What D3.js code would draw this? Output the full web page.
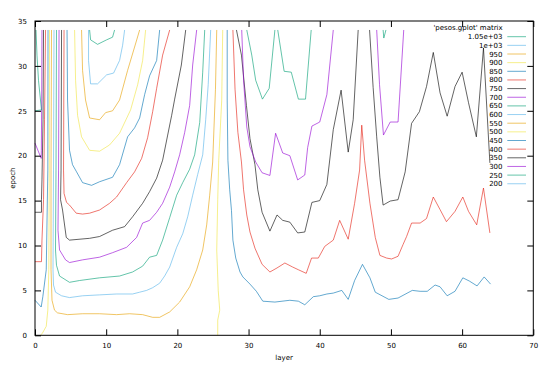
<!DOCTYPE html>
<html><head><meta charset="utf-8">
<script src="https://cdn.jsdelivr.net/npm/d3@7"></script>
<style>
body{margin:0;background:#fff}
svg{display:block}
text{font-family:'DejaVu Sans',sans-serif;font-size:7px;fill:#000}
</style>
</head><body>
<svg id="c" width="540" height="367"></svg>
<script>
// ---- axes ----
const xTicks=[0,10,20,30,40,50,60,70];
const yTicks=[0,5,10,15,20,25,30,35];
// ---- contour levels (legend order) ----
const levels=[1050,1000,950,900,850,800,750,700,650,600,550,500,450,400,350,300,250,200];
const levelLabels=["1.05e+03","1e+03","950","900","850","800","750","700","650","600","550","500","450","400","350","300","250","200"];
const palette=["#009E73","#56B4E9","#E69F00","#F0E442","#0072B2","#E51E10","#000000","#9400D3"];

// ---- contour polylines [layer, epoch] ----
const c1050=[[7.67,34],[7.81,32.9],[8.79,32.4],[10.06,32.9],[10.9,33.2],[11.18,34]];
const c1000=[[7.52,34],[7.52,30.6],[7.81,28.0],[8.79,28.0],[10.06,29.0],[11.04,29.2],[11.88,30.6],[12.31,32.3],[12.59,34]];
const c950=[[6.54,34],[6.68,29.5],[7.1,26.2],[7.67,24.2],[9.07,24.0],[9.92,24.8],[10.9,25.0],[11.88,26.2],[13.01,29.5],[13.99,32.1],[14.7,34]];
const c900=[[5.56,34],[5.7,28.4],[5.98,24.5],[6.54,22.1],[7.67,20.6],[9.07,20.5],[10.48,21.2],[11.88,22.5],[13.43,25.1],[14.42,27.9],[15.12,30.6],[15.54,34]];
const c850=[[4.5,34],[4.57,26.2],[4.85,20.6],[5.27,19.0],[5.84,18.2],[6.68,17.0],[7.95,16.7],[9.07,17.1],[10.9,17.6],[11.88,19.0],[13.01,22.1],[13.99,23.1],[14.7,24.2],[15.4,26.8],[16.1,28.9],[17.09,30.6],[17.51,34]];
const c800=[[4.08,34],[4.01,18.4],[4.08,15.8],[4.43,14.8],[4.85,14.5],[5.79,13.6],[6.68,13.5],[7.67,13.6],[9.07,13.95],[10.48,14.7],[11.46,15.4],[12.87,17.0],[13.99,18.2],[14.98,19.7],[15.82,22.0],[16.53,24.9],[17.09,27.5],[17.93,31.2],[18.92,34]];
const c750=[[3.73,34],[3.66,18.4],[3.59,15.1],[3.87,13.95],[4.39,10.9],[4.85,10.6],[7.67,10.8],[9.07,11.0],[10.9,11.7],[12.59,12.1],[13.71,13.2],[15.12,14.7],[16.1,16.0],[17.09,17.5],[17.93,19.5],[18.64,22.3],[19.2,24.5],[19.62,26.3],[20.56,30.1],[21.17,34]];
const c700=[[3.38,34],[3.31,18.4],[3.23,11.7],[3.45,9.5],[4.29,8.4],[4.85,8.1],[6.68,8.4],[9.07,8.7],[10.9,9.2],[12.87,9.8],[14.28,10.9],[15.12,12.5],[16.1,12.8],[17.09,13.7],[17.93,14.7],[18.92,16.5],[19.62,18.2],[20.32,20.1],[21.03,22.6],[21.73,25.6],[22.15,30.1],[22.71,34]];
const c650=[[3.02,34],[2.95,18.4],[2.88,9.5],[3.02,7.8],[3.45,6.6],[4.85,5.9],[6.26,6.1],[9.07,6.4],[11.88,6.6],[13.71,7.05],[15.12,7.7],[16.1,8.7],[17.09,8.9],[17.93,10.6],[18.92,13.1],[19.9,15.6],[20.75,17.0],[21.73,18.5],[22.43,20.1],[23.14,23.7],[23.56,29.3],[23.84,34]];
const c600=[[2.67,34],[2.6,18.4],[2.53,7.3],[2.6,5.6],[2.88,4.8],[3.73,4.4],[4.85,4.2],[6.68,4.4],[9.07,4.5],[11.46,4.6],[13.71,4.6],[14.7,4.8],[15.68,5.0],[16.53,5.3],[17.51,5.8],[18.21,6.6],[18.92,7.6],[19.9,9.8],[20.75,11.3],[21.45,13.2],[22.15,15.6],[22.85,17.9],[23.56,20.1],[23.98,24.0],[24.33,27.9],[24.68,34]];
const c550=[[2.32,34],[2.25,18.4],[2.25,7.3],[2.39,3.9],[2.74,2.8],[3.16,2.5],[4.57,2.3],[6.68,2.4],[9.07,2.4],[11.46,2.3],[13.29,2.4],[15.12,2.3],[16.53,2.0],[17.51,2.0],[18.92,2.6],[20.32,3.7],[21.73,5.4],[22.71,7.3],[23.56,9.5],[24.12,12.3],[24.54,15.6],[24.96,19.3],[25.35,27.4],[25.53,34]];
const c500a=[[2.04,34],[2.01,18.4],[1.94,7.3],[1.8,2.8],[1.58,1.0],[1.05,0.25],[0.77,0]];
const c500b=[[26.37,34],[26.23,26.2],[25.81,19.5],[25.67,15.1],[25.53,9.5],[25.74,5.0],[25.95,2.8],[25.67,1.7],[25.67,0]];
const c450a=[[1.83,34],[1.8,18.4],[1.58,7.3],[1.1,4.3],[0.87,3.15],[0,3.9]];
const c450b=[[27.0,34],[27.0,26.2],[27.1,19.5],[27.35,16.2],[27.6,13.9],[27.8,10.6],[28.2,8.6],[28.8,7.05],[29.2,6.5],[30.2,5.7],[31.1,4.9],[32.0,3.8],[33.7,3.7],[35.8,3.9],[37.0,3.8],[37.9,3.4],[39.1,4.3],[40.0,4.4],[41.0,4.6],[41.9,4.7],[43.1,5.0],[44.0,4.0],[44.9,6.1],[46.0,7.9],[47.05,6.4],[47.8,4.8],[49.7,4.0],[51.0,4.15],[53.0,5.0],[54.1,4.9],[55.1,4.9],[56.2,5.6],[56.9,5.4],[57.9,4.4],[59.0,4.9],[60.1,6.4],[61.0,6.05],[62.1,5.5],[63.1,6.5],[64.0,5.7]];
const c400a=[[1.48,34],[1.34,24.0],[1.2,15.1],[0.98,10.6],[0.91,8.2],[0,8.2]];
const c400b=[[27.8,34],[28.1,27.4],[28.5,22.6],[29.0,19.3],[29.3,16.2],[29.75,13.4],[30.2,11.5],[30.9,9.7],[31.9,7.9],[33.0,7.05],[34.0,7.5],[35.1,8.05],[36.2,7.6],[37.0,7.3],[38.1,6.9],[38.85,8.6],[39.8,8.6],[40.7,9.9],[41.9,10.6],[42.8,12.8],[44.0,10.7],[44.9,14.7],[45.6,18.4],[45.9,23.4],[46.3,19.5],[47.05,14.7],[47.8,10.9],[48.45,8.9],[49.4,8.6],[50.1,8.5],[51.0,8.8],[51.7,10.1],[52.2,11.0],[52.9,12.5],[54.1,12.5],[55.0,13.0],[55.95,15.4],[56.9,14.0],[57.8,12.65],[59.0,13.8],[60.1,15.4],[60.9,13.8],[62.05,12.3],[63.0,16.4],[63.9,11.4]];
const c350a=[[1.2,34],[1.13,24.0],[0.98,17.3],[0.91,15.1],[0.91,13.7],[0,13.7]];
const c350b=[[28.3,34],[29.0,31.2],[29.7,25.6],[30.2,21.9],[30.9,19.0],[31.3,16.2],[31.9,13.7],[33.0,11.6],[34.0,13.4],[34.8,12.8],[35.8,12.6],[36.9,11.4],[37.9,11.5],[38.9,14.8],[40.0,15.0],[41.0,16.8],[41.9,22.9],[43.0,27.3],[44.0,20.4],[44.7,24.0],[45.4,34]];
const c350c=[[47.0,34],[47.5,27.6],[48.0,22.1],[48.45,17.6],[48.9,14.5],[49.9,14.95],[51.0,15.1],[52.0,18.2],[52.9,23.6],[54.0,24.9],[55.0,27.7],[55.95,31.5],[56.9,27.0],[57.9,24.4],[59.0,27.7],[60.0,29.3],[60.9,25.9],[62.0,22.1],[63.0,32.0],[63.9,19.2]];
const c300a=[[0.98,34],[0.94,26.2],[0.89,20.6],[0.87,19.7],[0,21.4]];
const c300b=[[29.04,34],[29.3,28.4],[29.75,23.2],[30.2,21.0],[31.0,19.3],[31.9,18.1],[33.0,17.8],[33.8,22.5],[34.8,20.3],[35.8,20.0],[36.9,17.3],[37.9,17.85],[38.3,20.9],[38.9,23.3],[40.0,23.75],[41.0,26.8],[41.9,34]];
const c300c=[[48.0,34],[48.4,27.9],[48.95,22.3],[49.9,23.75],[51.0,23.75],[51.8,34]];
const c250a=[[0.14,34],[0.28,31.2],[0.49,28.4],[0.77,26.2],[0.91,25.1],[0,25.0]];
const c250b=[[29.75,34],[30.45,31.2],[31.0,28.4],[31.95,26.3],[32.9,27.5],[33.7,34]];
const c250c=[[34.1,34],[35.0,29.4],[36.0,29.3],[37.0,26.3],[38.0,26.3],[38.8,34]];
const c250d=[[48.9,34],[49.0,33.1],[49.3,34]];

const contours=[
 [1050,c1050],[1000,c1000],[950,c950],[900,c900],[850,c850],[800,c800],[750,c750],[700,c700],
 [650,c650],[600,c600],[550,c550],[500,c500a],[500,c500b],[450,c450a],[450,c450b],
 [400,c400a],[400,c400b],[350,c350a],[350,c350b],[350,c350c],[300,c300a],[300,c300b],[300,c300c],
 [250,c250a],[250,c250b],[250,c250c],[250,c250d]
];

const colorOf=lv=>palette[levels.indexOf(lv)%palette.length];

const svg=d3.select("#c");
const x=d3.scaleLinear().domain([0,70]).range([35,533.3]);
const y=d3.scaleLinear().domain([0,35]).range([335.3,21]);

// contour lines
const line=d3.line().x(d=>x(d[0])).y(d=>y(d[1]));
svg.append("g").selectAll("path").data(contours).join("path")
  .attr("d",d=>line(d[1]))
  .attr("fill","none")
  .attr("stroke",d=>colorOf(d[0]))
  .attr("stroke-width",0.9)
  .attr("stroke-opacity",0.68)
  .attr("stroke-linejoin","round");

// axes
const ax=svg.append("g");
ax.append("g").attr("transform",`translate(0,${y(0)})`)
  .call(d3.axisBottom(x).tickValues(xTicks).tickSizeInner(-6).tickSizeOuter(0).tickPadding(8));
ax.append("g").attr("transform",`translate(0,${y(35)})`)
  .call(d3.axisTop(x).tickValues(xTicks).tickSizeInner(-6).tickSizeOuter(0).tickFormat(""));
ax.append("g").attr("transform",`translate(${x(0)},0)`)
  .call(d3.axisLeft(y).tickValues(yTicks).tickSizeInner(-6).tickSizeOuter(0).tickPadding(8));
ax.append("g").attr("transform",`translate(${x(70)},0)`)
  .call(d3.axisRight(y).tickValues(yTicks).tickSizeInner(-6).tickSizeOuter(0).tickFormat(""));
ax.selectAll(".domain").remove();
ax.selectAll(".tick line").attr("stroke","#000").attr("stroke-width",1);
ax.selectAll(".tick text").style("font-family","'DejaVu Sans',sans-serif").style("font-size","7px");
svg.append("rect").attr("x",x(0)).attr("y",y(35)).attr("width",x(70)-x(0)).attr("height",y(0)-y(35))
  .attr("fill","none").attr("stroke","#000").attr("stroke-width",1);

// axis labels
svg.append("text").attr("x",(x(0)+x(70))/2).attr("y",360).attr("text-anchor","middle").text("layer");
svg.append("text").attr("transform",`translate(15,${(y(0)+y(35))/2}) rotate(-90)`).attr("text-anchor","middle").text("epoch");

// legend
const lg=svg.append("g");
lg.append("text").attr("x",502.7).attr("y",29.8).attr("text-anchor","end").text("'pesos.gplot' matrix");
const rows=lg.selectAll("g.row").data(levels).join("g").attr("class","row")
  .attr("transform",(d,i)=>`translate(0,${36.7+i*8.65})`);
rows.append("text").attr("x",502.5).attr("y",2.5).attr("text-anchor","end").text((d,i)=>levelLabels[i]);
rows.append("line").attr("x1",507.3).attr("x2",526).attr("y1",0).attr("y2",0)
  .attr("stroke",d=>colorOf(d)).attr("stroke-width",0.9).attr("stroke-opacity",0.68);
</script>
</body></html>
